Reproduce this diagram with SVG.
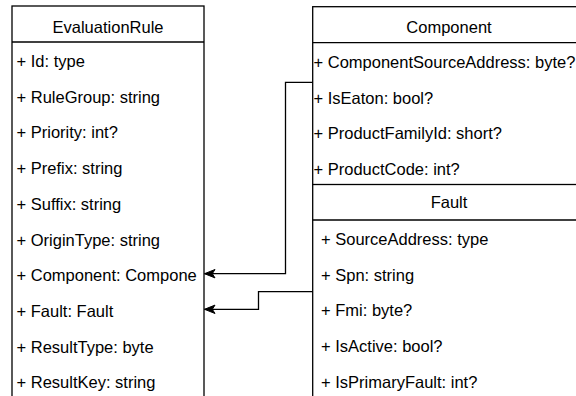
<svg xmlns="http://www.w3.org/2000/svg" width="576" height="396" viewBox="0 0 576 396">
  <style>
    .box { fill: #ffffff; stroke: #000000; stroke-width: 1.3; }
    .sep { stroke: #000000; stroke-width: 1.3; fill: none; }
    .title { font-family: "Liberation Sans", Arial, Helvetica, sans-serif; font-size: 16.5px; fill: #000000; text-anchor: middle; }
    .row { font-family: "Liberation Sans", Arial, Helvetica, sans-serif; font-size: 16.5px; fill: #000000; }
    .edge { stroke: #000000; stroke-width: 1.3; fill: none; }
  </style>
  <defs>
    <marker id="arrow" markerUnits="userSpaceOnUse" markerWidth="14" markerHeight="12" viewBox="-12 -6 14 12" refX="0" refY="0" orient="auto" overflow="visible">
      <path d="M0,0 L-10.5,-4.2 L-7.8,0 L-10.5,4.2 Z" fill="#000000" stroke="#000000" stroke-width="1"/>
    </marker>
    <clipPath id="clipRule">
      <rect x="12" y="0" width="186" height="396"/>
    </clipPath>
  </defs>

  <!-- EvaluationRule class -->
  <g id="EvaluationRule">
    <rect class="box" x="12" y="6" width="192" height="400"/>
    <line class="sep" x1="12" y1="42" x2="204" y2="42"/>
    <text class="title" x="108" y="32.5">EvaluationRule</text>
    <g clip-path="url(#clipRule)">
      <text class="row" x="16.5" y="67">+ Id: type</text>
      <text class="row" x="16.5" y="102.7">+ RuleGroup: string</text>
      <text class="row" x="16.5" y="138.4">+ Priority: int?</text>
      <text class="row" x="16.5" y="174.1">+ Prefix: string</text>
      <text class="row" x="16.5" y="209.8">+ Suffix: string</text>
      <text class="row" x="16.5" y="245.5">+ OriginType: string</text>
      <text class="row" x="16.5" y="281.2">+ Component: Compone</text>
      <text class="row" x="16.5" y="316.9">+ Fault: Fault</text>
      <text class="row" x="16.5" y="352.6">+ ResultType: byte</text>
      <text class="row" x="16.5" y="388.3">+ ResultKey: string</text>
    </g>
  </g>

  <!-- Component class -->
  <g id="Component">
    <rect class="box" x="312.7" y="6.7" width="272" height="178"/>
    <line class="sep" x1="312.7" y1="42.7" x2="584.7" y2="42.7"/>
    <text class="title" x="449" y="32.5">Component</text>
    <text class="row" x="313.5" y="68">+ ComponentSourceAddress: byte?</text>
    <text class="row" x="313.5" y="103.5">+ IsEaton: bool?</text>
    <text class="row" x="313.5" y="139">+ ProductFamilyId: short?</text>
    <text class="row" x="313.5" y="174.5">+ ProductCode: int?</text>
  </g>

  <!-- Fault class -->
  <g id="Fault">
    <rect class="box" x="312.7" y="184.5" width="272" height="220"/>
    <line class="sep" x1="312.7" y1="220" x2="584.7" y2="220"/>
    <text class="title" x="449" y="208.3">Fault</text>
    <text class="row" x="321" y="245">+ SourceAddress: type</text>
    <text class="row" x="321" y="280.5">+ Spn: string</text>
    <text class="row" x="321" y="316">+ Fmi: byte?</text>
    <text class="row" x="321" y="351.5">+ IsActive: bool?</text>
    <text class="row" x="321" y="387.5">+ IsPrimaryFault: int?</text>
  </g>

  <!-- Associations -->
  <g id="connectors">
    <path class="edge" d="M312.7,82.3 H285.5 V273.7 H204.5" marker-end="url(#arrow)"/>
    <path class="edge" d="M312.7,291.7 H258.5 V309.3 H204.5" marker-end="url(#arrow)"/>
  </g>
</svg>
